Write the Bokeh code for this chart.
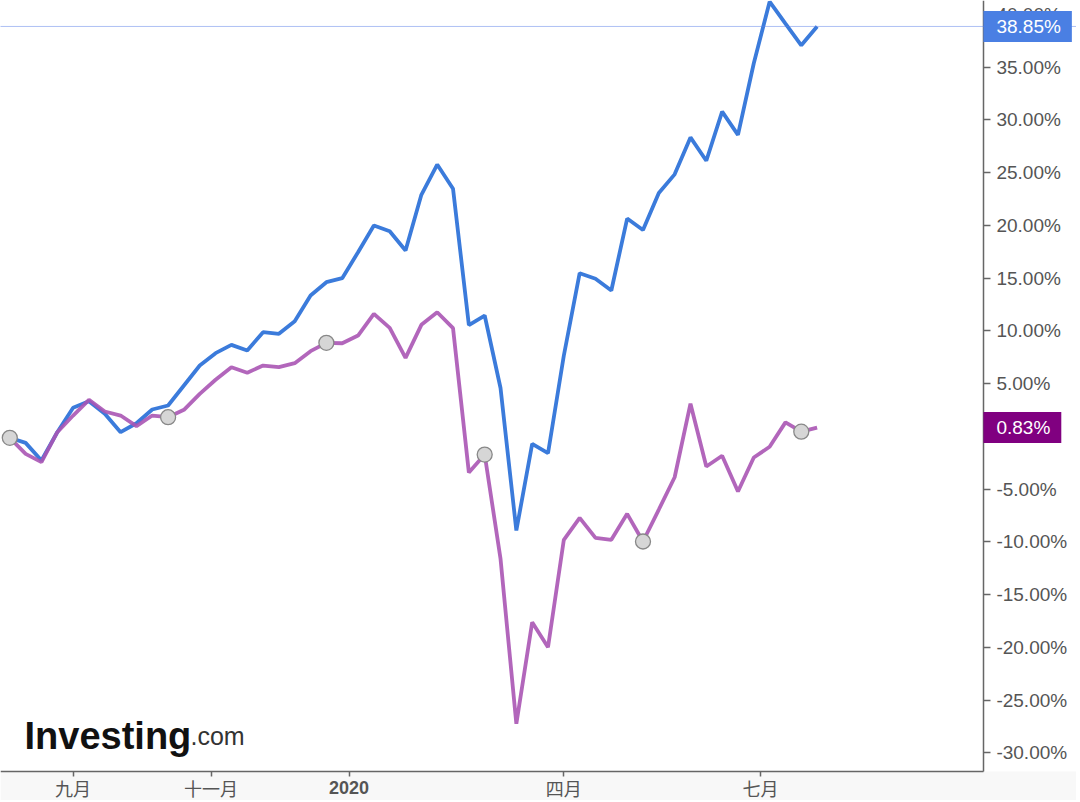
import pandas as pd
from bokeh.plotting import figure
from bokeh.models import (Range1d, FixedTicker, PrintfTickFormatter, Span, Label,
                          CustomJSTickFormatter, BoxAnnotation)
from bokeh.embed import file_html
from bokeh.resources import INLINE

# ---- data (weekly, % change) ----
dates = pd.date_range("2019-08-04", periods=52, freq="7D")
series_a = [-0.14, -0.62, -2.29, 0.39, 2.70, 3.33, 2.13, 0.39, 1.24, 2.54,
            2.92, 4.82, 6.71, 7.88, 8.67, 8.13, 9.87, 9.72, 10.91, 13.35,
            14.61, 14.99, 17.45, 19.98, 19.44, 17.61, 22.89, 25.76, 23.46, 10.55,
            11.45, 4.58, -8.93, -0.71, -1.60, 7.66, 15.46, 14.93, 13.82, 20.64,
            19.56, 23.06, 24.83, 28.33, 26.12, 30.78, 28.57, 35.36, 41.20, 39.12,
            37.06, 38.85]
series_b = [-0.14, -1.66, -2.45, 0.39, 1.97, 3.46, 2.35, 1.97, 0.96, 1.97,
            1.81, 2.51, 4.03, 5.36, 6.55, 6.02, 6.71, 6.55, 6.93, 8.07,
            8.86, 8.82, 9.55, 11.61, 10.28, 7.44, 10.57, 11.76, 10.25, -3.43,
            -1.73, -11.61, -27.25, -17.62, -19.99, -9.81, -7.73, -9.62, -9.81, -7.35,
            -9.97, -6.94, -3.88, 3.09, -2.86, -1.84, -5.23, -2.01, -0.99, 1.32,
            0.44, 0.83]
tick_dates = pd.to_datetime(["2019-09-01", "2019-11-01", "2020-01-01", "2020-04-05", "2020-07-01"])
tick_labels = ["九月", "十一月", "2020", "四月", "七月"]
y_ticks = list(range(-30, 45, 5))
last_a = 38.85
last_b = 0.83

# ---- geometry ----
x_start = dates[0] - pd.Timedelta(days=4.11)
axis_x = dates[0] + pd.Timedelta(days=430.54)     # where the value axis stands
x_end = dates[0] + pd.Timedelta(days=471.7)       # right edge of the canvas
axis_x_ms = axis_x.value / 1e6
x_start_ms = x_start.value / 1e6
tick_ms = [t.value / 1e6 for t in tick_dates]
y_top, y_axis_pos, y_bottom = 41.31, -31.77, -34.52

p = figure(width=1076, height=800, x_axis_type="datetime", y_axis_location="right",
           x_range=Range1d(x_start.to_pydatetime(), x_end.to_pydatetime()),
           y_range=Range1d(y_bottom, y_top),
           output_backend="svg", toolbar_location=None,
           min_border_left=0, min_border_top=0, min_border_right=0, min_border_bottom=0)
p.background_fill_color = "white"
p.border_fill_color = "white"
p.outline_line_color = None
p.xgrid.visible = False
p.ygrid.visible = False

# light band under the time axis
p.add_layout(BoxAnnotation(top=y_axis_pos, fill_color="#f8f8f8", fill_alpha=1,
                           line_color=None, level="underlay"))

ax = p.xaxis[0]
ax.fixed_location = y_axis_pos
ax.bounds = (x_start_ms, axis_x_ms)
ax.ticker = FixedTicker(ticks=tick_ms)
ax.formatter = CustomJSTickFormatter(args=dict(tvals=tick_ms, tnames=tick_labels), code="""
    let best = 0, d = Infinity;
    for (let i = 0; i < tvals.length; i++) {
        const e = Math.abs(tvals[i] - tick);
        if (e < d) { d = e; best = i; }
    }
    const s = tnames[best];
    return /^[0-9]+$/.test(s) ? "" : s;
""")
ax.major_label_text_font = "Liberation Sans, Noto Sans CJK SC"
ax.major_label_text_font_size = "18px"
ax.major_label_text_color = "#555555"
ax.major_label_standoff = 4
ax.major_tick_out = 5
ax.major_tick_in = 0
ax.minor_tick_line_color = None
ax.axis_line_color = "#666666"
ax.axis_line_width = 1.5
ax.major_tick_line_color = "#666666"
ax.major_tick_line_width = 1.5

ay = p.yaxis[0]
ay.fixed_location = axis_x_ms
ay.bounds = (y_axis_pos, y_top)
ay.ticker = FixedTicker(ticks=y_ticks)
ay.formatter = PrintfTickFormatter(format="%.2f%%")
ay.major_tick_out = 7
ay.major_tick_in = 0
ay.minor_tick_line_color = None
ay.major_label_standoff = 6
ay.major_label_text_font = "Liberation Sans"
ay.major_label_text_font_size = "19px"
ay.major_label_text_color = "#555555"
ay.axis_line_color = "#666666"
ay.axis_line_width = 1.5
ay.major_tick_line_color = "#666666"
ay.major_tick_line_width = 1.5

p.add_layout(Span(location=last_a, dimension="width", line_color="#5b80e8",
                  line_dash="1 1", line_width=1))

p.line(dates, series_a, line_color="#3b7bdb", line_width=3.8)
p.line(dates, series_b, line_color="#aa55b4", line_width=3.8, line_alpha=0.9)
p.scatter(dates[::10], series_b[::10], size=15, marker="circle",
          fill_color="#d6d6d6", line_color="#888888", line_width=1.3)

# year label in bold under its tick
for t, lab in zip(tick_ms, tick_labels):
    if lab.isdigit():
        p.add_layout(Label(x=t, y=y_axis_pos, y_offset=-10, text=lab, text_align="center",
                           text_baseline="top", text_font="Liberation Sans",
                           text_font_style="bold", text_font_size="18px", text_color="#555555"))

# value boxes on the right axis
for val, col in [(last_a, "#4a7fe3"), (last_b, "#800080")]:
    p.add_layout(Label(x=axis_x_ms, y=val, text=f"{val:.2f}%", x_offset=0,
                       text_align="left", text_baseline="middle",
                       text_color="white", text_font="Liberation Sans", text_font_size="19px",
                       background_fill_color=col,
                       padding=dict(left=13, right=11, top=5, bottom=5)))

# logo
p.add_layout(Label(x=24, x_units="screen", y=-28.36, text="Investing",
                   text_font="Liberation Sans", text_font_style="bold",
                   text_font_size="38px", text_color="#111111", text_baseline="alphabetic"))
p.add_layout(Label(x=190, x_units="screen", y=-28.36, text=".com",
                   text_font="Liberation Sans", text_font_size="25px",
                   text_color="#333333", text_baseline="alphabetic"))

open("out.html", "w").write(file_html(p, INLINE))
